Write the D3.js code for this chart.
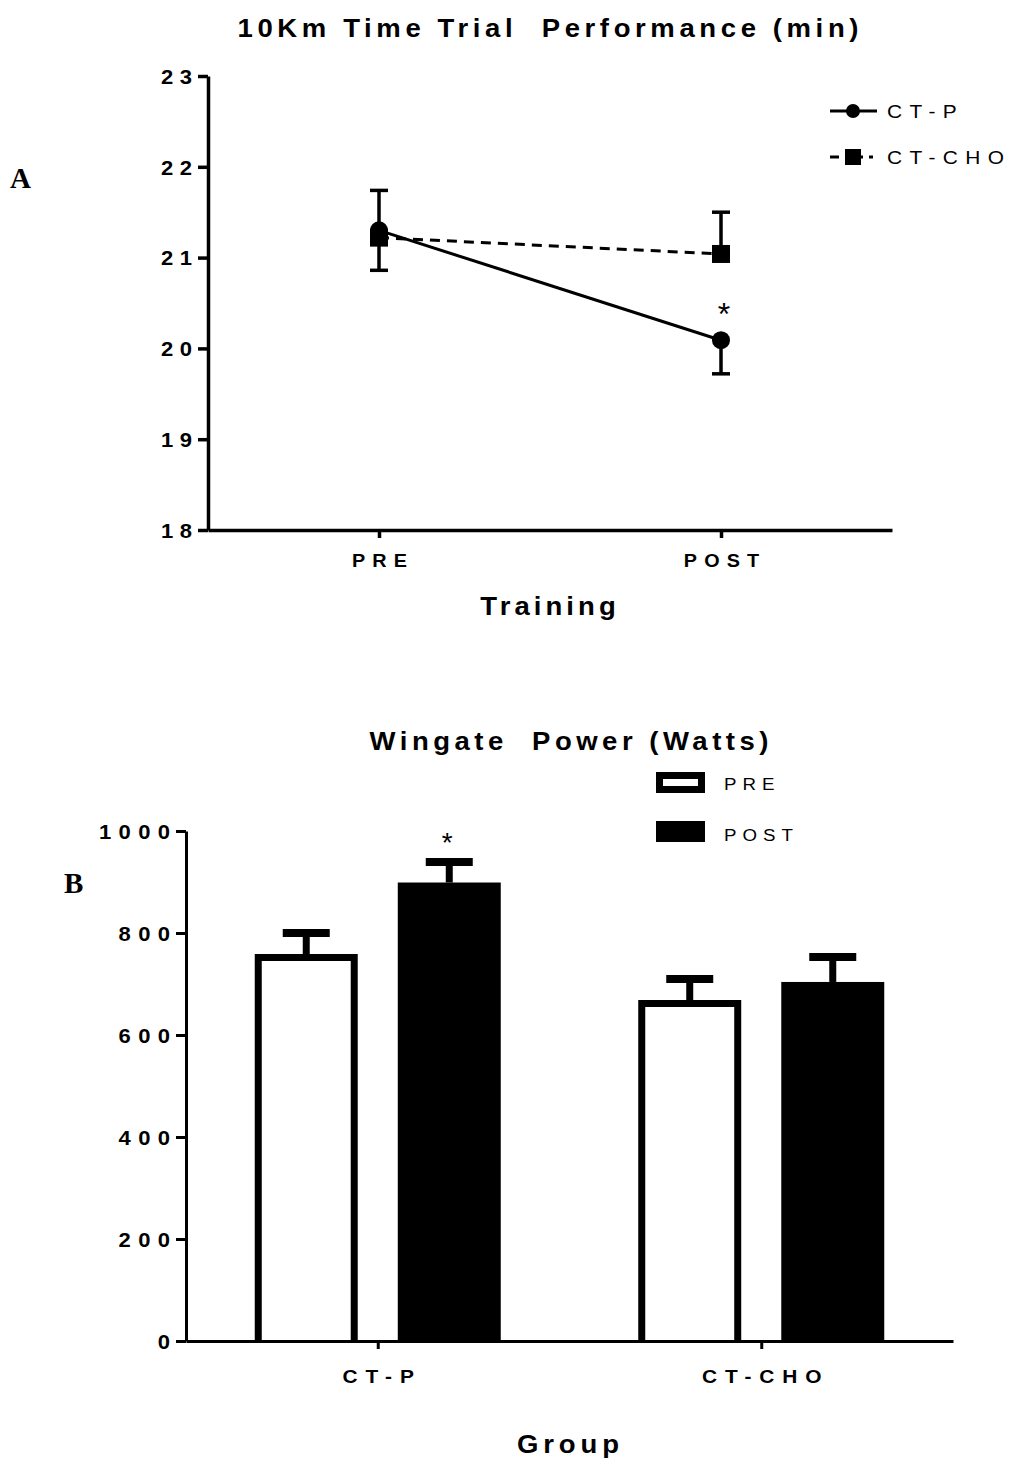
<!DOCTYPE html>
<html>
<head>
<meta charset="utf-8">
<script src="https://cdn.jsdelivr.net/npm/d3@7"></script>
<style>
  body { margin: 0; background: #fff; }
  svg { display: block; font-family: "Liberation Sans", Arial, sans-serif; }
</style>
</head>
<body>
<svg id="chart" width="1011" height="1460"></svg>
<script>
// panel A : 10km time trial (min)
const phases = ["PRE", "POST"];
const ctpTime = [21.3, 20.09];
const ctpTimeErr = [0.44, 0.37];   // drawn downward
const choTime = [21.22, 21.04];
const choTimeErr = [0.52, 0.46];   // drawn upward
const timeTicks = [18, 19, 20, 21, 22, 23];

// panel B : wingate power (watts)
const groups = ["CT-P", "CT-CHO"];
const powerPre = [752, 662];
const powerPreErr = [48, 48];
const powerPost = [899, 704];
const powerPostErr = [40, 49];
const powerTicks = [0, 200, 400, 600, 800, 1000];

const svg = d3.select("#chart")
const SX = 1.1 // the original text is drawn a bit wide, stretch it horizontally

// wide, letter-spaced text (chrome adds spacing after last char too, so shift with dx)
function spaced(sel, size, ls, weight, anchor) {
    sel.each(function () {
        var t = d3.select(this)
        var x = +t.attr("x") || 0, y = +t.attr("y") || 0
        t.attr("x", null).attr("y", null)
            .attr("transform", `translate(${x},${y}) scale(${SX},1)`)
    })
    sel.attr("font-size", size)
        .attr("font-weight", weight)
        .attr("letter-spacing", ls)
        .attr("text-anchor", anchor)
        .attr("dx", anchor == "middle" ? ls / 2 : (anchor == "end" ? ls : 0))
        .style("white-space", "pre")
    return sel
}

function styleAxis(g, w) {
    g.select(".domain").attr("stroke", "#000").attr("stroke-width", w)
    g.selectAll(".tick line").attr("stroke", "#000").attr("stroke-width", w)
    g.selectAll(".tick text").attr("fill", "#000").attr("font-family", null)
}

// ---------------- panel A ----------------
var x = d3.scalePoint().domain(phases).range([208, 892]).padding(0.5)
var y = d3.scaleLinear().domain([18, 23]).range([530, 76])

var gyA = svg.append("g").attr("transform", "translate(208,0)")
    .call(d3.axisLeft(y).tickValues(timeTicks).tickFormat(d3.format("d"))
        .tickSize(10).tickSizeOuter(0).tickPadding(6))
styleAxis(gyA, 3.5)
gyA.selectAll(".tick text").call(spaced, 20, 6, "bold", "end").attr("dy", "0.36em")

var gxA = svg.append("g").attr("transform", "translate(0,530)")
    .call(d3.axisBottom(x).tickSize(8).tickSizeOuter(0).tickPadding(16))
styleAxis(gxA, 3.5)
gxA.selectAll(".tick text").call(spaced, 18, 6.5, "bold", "middle")

var series = [
    { name: "CT-P", vals: ctpTime, err: ctpTimeErr, dir: -1, dash: null, shape: "circle" },
    { name: "CT-CHO", vals: choTime, err: choTimeErr, dir: 1, dash: "10,7", shape: "square" }
]

var line = d3.line().x((d, i) => x(phases[i])).y(d => y(d))

// draw CHO first so CT-P circle sits on top
series.slice().reverse().forEach(s => {
    var g = svg.append("g")
    // error bars, one direction only
    s.vals.forEach((v, i) => {
        var cx = x(phases[i]), y0 = y(v), y1 = y(v + s.dir * s.err[i])
        g.append("line").attr("x1", cx).attr("x2", cx).attr("y1", y0).attr("y2", y1)
            .attr("stroke", "#000").attr("stroke-width", 3.5)
        g.append("line").attr("x1", cx - 9).attr("x2", cx + 9).attr("y1", y1).attr("y2", y1)
            .attr("stroke", "#000").attr("stroke-width", 3.5)
    })
    g.append("path").datum(s.vals).attr("d", line)
        .attr("fill", "none").attr("stroke", "#000").attr("stroke-width", 3)
        .attr("stroke-dasharray", s.dash)
    s.vals.forEach((v, i) => {
        if (s.shape == "circle")
            g.append("circle").attr("cx", x(phases[i])).attr("cy", y(v)).attr("r", 9)
        else
            g.append("rect").attr("x", x(phases[i]) - 9).attr("y", y(v) - 9).attr("width", 18).attr("height", 18)
    })
})

svg.append("text").attr("x", x("POST") + 3).attr("y", y(ctpTime[1]) - 15)
    .attr("text-anchor", "middle").attr("font-size", 32).text("*")

// legend A
var legA = svg.append("g")
series.forEach((s, i) => {
    var ly = 111 + i * 46
    var row = legA.append("g")
    if (s.shape == "circle") {
        row.append("line").attr("x1", 830).attr("x2", 877).attr("y1", ly).attr("y2", ly)
            .attr("stroke", "#000").attr("stroke-width", 3)
        row.append("circle").attr("cx", 853).attr("cy", ly).attr("r", 7)
    } else {
        row.append("line").attr("x1", 830).attr("x2", 877).attr("y1", ly).attr("y2", ly)
            .attr("stroke", "#000").attr("stroke-width", 3).attr("stroke-dasharray", "9,6,18,6,4")
        row.append("rect").attr("x", 845).attr("y", ly - 8).attr("width", 16).attr("height", 16)
    }
    row.append("text").attr("x", 887).attr("y", ly + 7).call(spaced, 19, 6.7, "normal", "start").text(s.name)
})

svg.append("text").attr("x", 548).attr("y", 37).call(spaced, 25, 4.2, "bold", "middle")
    .text("10Km Time Trial  Performance (min)")
svg.append("text").attr("x", 548).attr("y", 615).call(spaced, 25, 3.7, "bold", "middle").text("Training")
svg.append("text").attr("x", 10).attr("y", 188).attr("font-family", "Liberation Serif, Times New Roman, serif")
    .attr("font-weight", "bold").attr("font-size", 29).text("A")

// ---------------- panel B ----------------
var x0 = d3.scalePoint().domain(groups).range([186, 953]).padding(0.5)
var x1 = d3.scaleBand().domain(phases).range([-123, 123]).paddingInner(0.28)
var y2 = d3.scaleLinear().domain([0, 1000]).range([1341, 831])
var bw = x1.bandwidth()

var bars = svg.append("g")
groups.forEach((grp, i) => {
    var xp = x0(grp) + x1("PRE"), xq = x0(grp) + x1("POST")
    // PRE: open outlined bar
    bars.append("path")
        .attr("d", `M${xp + 3.5},${y2(0)}V${y2(powerPre[i])}H${xp + bw - 3.5}V${y2(0)}`)
        .attr("fill", "#fff").attr("stroke", "#000").attr("stroke-width", 7)
    // POST: filled bar
    bars.append("rect").attr("x", xq).attr("y", y2(powerPost[i]))
        .attr("width", bw).attr("height", y2(0) - y2(powerPost[i])).attr("fill", "#000")

    // upward error bars
    ;[[xp, powerPre[i], powerPreErr[i]], [xq, powerPost[i], powerPostErr[i]]].forEach(([bx, v, e]) => {
        var cx = bx + bw / 2
        bars.append("line").attr("x1", cx).attr("x2", cx).attr("y1", y2(v)).attr("y2", y2(v + e))
            .attr("stroke", "#000").attr("stroke-width", 7)
        bars.append("line").attr("x1", cx - 23.5).attr("x2", cx + 23.5).attr("y1", y2(v + e)).attr("y2", y2(v + e))
            .attr("stroke", "#000").attr("stroke-width", 8)
    })
})

svg.append("text").attr("x", x0("CT-P") + x1("POST") + bw / 2 - 2).attr("y", y2(powerPost[0] + powerPostErr[0]) - 10)
    .attr("text-anchor", "middle").attr("font-size", 28).text("*")

var gyB = svg.append("g").attr("transform", "translate(186,0)")
    .call(d3.axisLeft(y2).tickValues(powerTicks).tickFormat(d3.format("d"))
        .tickSize(10).tickSizeOuter(0).tickPadding(6))
styleAxis(gyB, 3)
gyB.selectAll(".tick text").call(spaced, 20, 6.7, "bold", "end").attr("dy", "0.36em")

var gxB = svg.append("g").attr("transform", "translate(0,1341)")
    .call(d3.axisBottom(x0).tickSize(8).tickSizeOuter(0).tickPadding(21))
styleAxis(gxB, 3)
gxB.selectAll(".tick text").call(spaced, 19, 7.2, "bold", "middle")

// legend B
var legB = svg.append("g")
legB.append("rect").attr("x", 659.5).attr("y", 775.5).attr("width", 42).attr("height", 14)
    .attr("fill", "#fff").attr("stroke", "#000").attr("stroke-width", 7)
legB.append("rect").attr("x", 656).attr("y", 821).attr("width", 49).attr("height", 21).attr("fill", "#000")
legB.append("text").attr("x", 724).attr("y", 790).call(spaced, 17, 5.5, "normal", "start").text("PRE")
legB.append("text").attr("x", 724).attr("y", 841).call(spaced, 17, 5.5, "normal", "start").text("POST")

svg.append("text").attr("x", 569).attr("y", 750).call(spaced, 25, 4.1, "bold", "middle")
    .text("Wingate  Power (Watts)")
svg.append("text").attr("x", 568).attr("y", 1453).call(spaced, 25, 4.5, "bold", "middle").text("Group")
svg.append("text").attr("x", 64).attr("y", 893).attr("font-family", "Liberation Serif, Times New Roman, serif")
    .attr("font-weight", "bold").attr("font-size", 29).text("B")
</script>
</body>
</html>
